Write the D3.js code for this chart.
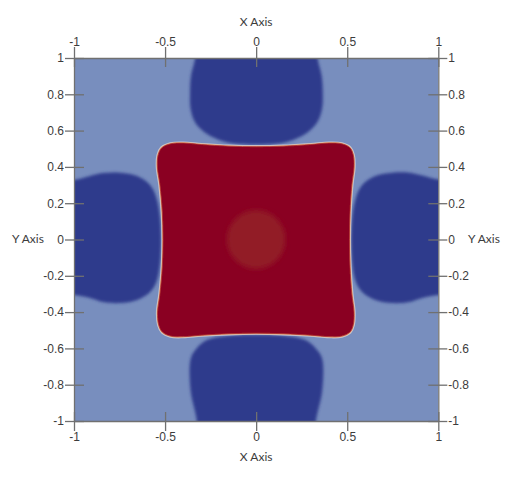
<!DOCTYPE html>
<html>
<head>
<meta charset="utf-8">
<script src="https://cdn.jsdelivr.net/npm/d3@7"></script>
<style>
  body { margin: 0; background: #fff; }
  svg { display: block; font-family: Lato, "Open Sans", sans-serif; }
  .axis text { font-size: 12px; fill: #3c3c3c; }
  .axis path, .axis line { stroke: #707070; stroke-width: 1.3; }
</style>
</head>
<body>
<svg id="chart" width="518" height="488"></svg>
<script>
// tick values
const xTicks = [-1, -0.5, 0, 0.5, 1];
const yTicks = [-1, -0.8, -0.6, -0.4, -0.2, 0, 0.2, 0.4, 0.6, 0.8, 1];

// boundary of the hot (red) region
const redRegion = [
  [-0.40, 0.531], [-0.30, 0.523], [-0.15, 0.514], [0, 0.511], [0.15, 0.514], [0.30, 0.523], [0.40, 0.531],
  [0.47, 0.527], [0.515, 0.505], [0.533, 0.465],
  [0.537, 0.40], [0.525, 0.30], [0.515, 0.15], [0.512, 0], [0.515, -0.15], [0.525, -0.30], [0.537, -0.40],
  [0.533, -0.47], [0.515, -0.51], [0.47, -0.532],
  [0.40, -0.535], [0.30, -0.527], [0.15, -0.519], [0, -0.516], [-0.15, -0.519], [-0.30, -0.527], [-0.40, -0.535],
  [-0.47, -0.532], [-0.515, -0.51], [-0.535, -0.47],
  [-0.541, -0.40], [-0.528, -0.30], [-0.515, -0.15], [-0.511, 0], [-0.515, 0.15], [-0.528, 0.30], [-0.542, 0.40],
  [-0.538, 0.465], [-0.518, 0.505], [-0.47, 0.527]
];

// the four cold (dark blue) lobes
const topLobe = [
  [-0.335, 1.1], [-0.335, 1.0], [-0.358, 0.90], [-0.363, 0.80], [-0.36, 0.72], [-0.335, 0.644],
  [-0.28, 0.588], [-0.216, 0.554], [-0.143, 0.532], [0, 0.524], [0.143, 0.532], [0.216, 0.554],
  [0.28, 0.588], [0.335, 0.644], [0.362, 0.72], [0.366, 0.80], [0.36, 0.90], [0.337, 1.0], [0.337, 1.1]
];
const bottomLobe = [
  [-0.326, -1.1], [-0.326, -1.0], [-0.335, -0.949], [-0.359, -0.839], [-0.359, -0.655], [-0.326, -0.599],
  [-0.271, -0.554], [-0.143, -0.53], [0, -0.526], [0.143, -0.53], [0.271, -0.554], [0.326, -0.599],
  [0.362, -0.655], [0.362, -0.839], [0.338, -0.949], [0.328, -1.0], [0.328, -1.1]
];
const leftLobe = [
  [-1.1, 0.328], [-1.0, 0.328], [-0.912, 0.350], [-0.841, 0.366], [-0.747, 0.368], [-0.654, 0.350],
  [-0.582, 0.300], [-0.544, 0.218], [-0.522, 0], [-0.544, -0.223], [-0.582, -0.289], [-0.654, -0.333],
  [-0.747, -0.350], [-0.841, -0.344], [-0.912, -0.322], [-1.0, -0.306], [-1.1, -0.306]
];
const rightLobe = [
  [1.1, 0.33], [1.0, 0.33], [0.912, 0.352], [0.841, 0.368], [0.747, 0.368], [0.654, 0.350],
  [0.582, 0.300], [0.544, 0.218], [0.522, 0], [0.544, -0.223], [0.582, -0.289], [0.654, -0.333],
  [0.747, -0.350], [0.841, -0.344], [0.912, -0.322], [1.0, -0.306], [1.1, -0.306]
];

// the slightly lighter spot in the middle
const centerSpot = { x: 0, y: 0, r: 0.16 };

const svg = d3.select('#chart');
const x = d3.scaleLinear().domain([-1, 1]).range([74, 438.3]);
const y = d3.scaleLinear().domain([-1, 1]).range([421, 58]);

const defs = svg.append('defs');
defs.append('clipPath').attr('id', 'plotClip')
  .append('rect')
  .attr('x', x(-1)).attr('y', y(1))
  .attr('width', x(1) - x(-1)).attr('height', y(-1) - y(1));
defs.append('filter').attr('id', 'softLobe')
  .attr('x', '-20%').attr('y', '-20%').attr('width', '140%').attr('height', '140%')
  .append('feGaussianBlur').attr('stdDeviation', 1.5);
defs.append('filter').attr('id', 'softRim')
  .append('feGaussianBlur').attr('stdDeviation', 0.45);
defs.append('filter').attr('id', 'softSpot')
  .attr('x', '-50%').attr('y', '-50%').attr('width', '200%').attr('height', '200%')
  .append('feGaussianBlur').attr('stdDeviation', 2.5);

const line = d3.line()
  .x(d => x(d[0]))
  .y(d => y(d[1]))
  .curve(d3.curveCatmullRomClosed.alpha(0.5));

const plot = svg.append('g').attr('clip-path', 'url(#plotClip)');

plot.append('rect')
  .attr('x', x(-1)).attr('y', y(1))
  .attr('width', x(1) - x(-1)).attr('height', y(-1) - y(1))
  .attr('fill', '#788ebe');

plot.append('g')
  .attr('filter', 'url(#softLobe)')
  .selectAll('path')
  .data([topLobe, bottomLobe, leftLobe, rightLobe])
  .join('path')
  .attr('d', line)
  .attr('fill', '#2e3b8c');

const rim = plot.append('g').attr('filter', 'url(#softRim)');
rim.append('path')
  .attr('d', line(redRegion))
  .attr('fill', 'none')
  .attr('stroke', '#c9c6d2')
  .attr('stroke-width', 3.4);
rim.append('path')
  .attr('d', line(redRegion))
  .attr('fill', 'none')
  .attr('stroke', '#e2b088')
  .attr('stroke-width', 2);
rim.append('path')
  .attr('d', line(redRegion))
  .attr('fill', '#8a0021')
  .attr('stroke', '#b3302e')
  .attr('stroke-width', 0.8);

plot.append('circle')
  .attr('cx', x(centerSpot.x))
  .attr('cy', y(centerSpot.y))
  .attr('r', x(centerSpot.r) - x(0))
  .attr('fill', '#921d25')
  .attr('filter', 'url(#softSpot)');

const fmt = d => String(+d.toFixed(2));

// axes: ticks cross the frame, so stretch each tick line inwards
const xTop = svg.append('g').attr('class', 'axis')
  .attr('transform', `translate(0,${y(1)})`)
  .call(d3.axisTop(x).tickValues(xTicks).tickFormat(fmt).tickSizeInner(11).tickSizeOuter(0).tickPadding(1));
xTop.selectAll('.tick line').attr('y1', 9);

const xBottom = svg.append('g').attr('class', 'axis')
  .attr('transform', `translate(0,${y(-1)})`)
  .call(d3.axisBottom(x).tickValues(xTicks).tickFormat(fmt).tickSizeInner(10).tickSizeOuter(0).tickPadding(1));
xBottom.selectAll('.tick line').attr('y1', -9);

const yLeft = svg.append('g').attr('class', 'axis')
  .attr('transform', `translate(${x(-1)},0)`)
  .call(d3.axisLeft(y).tickValues(yTicks).tickFormat(fmt).tickSizeInner(9).tickSizeOuter(0).tickPadding(1));
yLeft.selectAll('.tick line').attr('x1', 10);

const yRight = svg.append('g').attr('class', 'axis')
  .attr('transform', `translate(${x(1)},0)`)
  .call(d3.axisRight(y).tickValues(yTicks).tickFormat(fmt).tickSizeInner(9).tickSizeOuter(0).tickPadding(1));
yRight.selectAll('.tick line').attr('x1', -10);

// axis titles
const titles = svg.append('g').attr('class', 'axis');
titles.append('text').attr('x', x(0)).attr('y', 26).attr('text-anchor', 'middle').text('X Axis');
titles.append('text').attr('x', x(0)).attr('y', 461).attr('text-anchor', 'middle').text('X Axis');
titles.append('text').attr('x', 12).attr('y', y(0)).attr('dy', '0.32em').text('Y Axis');
titles.append('text').attr('x', 468).attr('y', y(0)).attr('dy', '0.32em').text('Y Axis');
</script>
</body>
</html>
